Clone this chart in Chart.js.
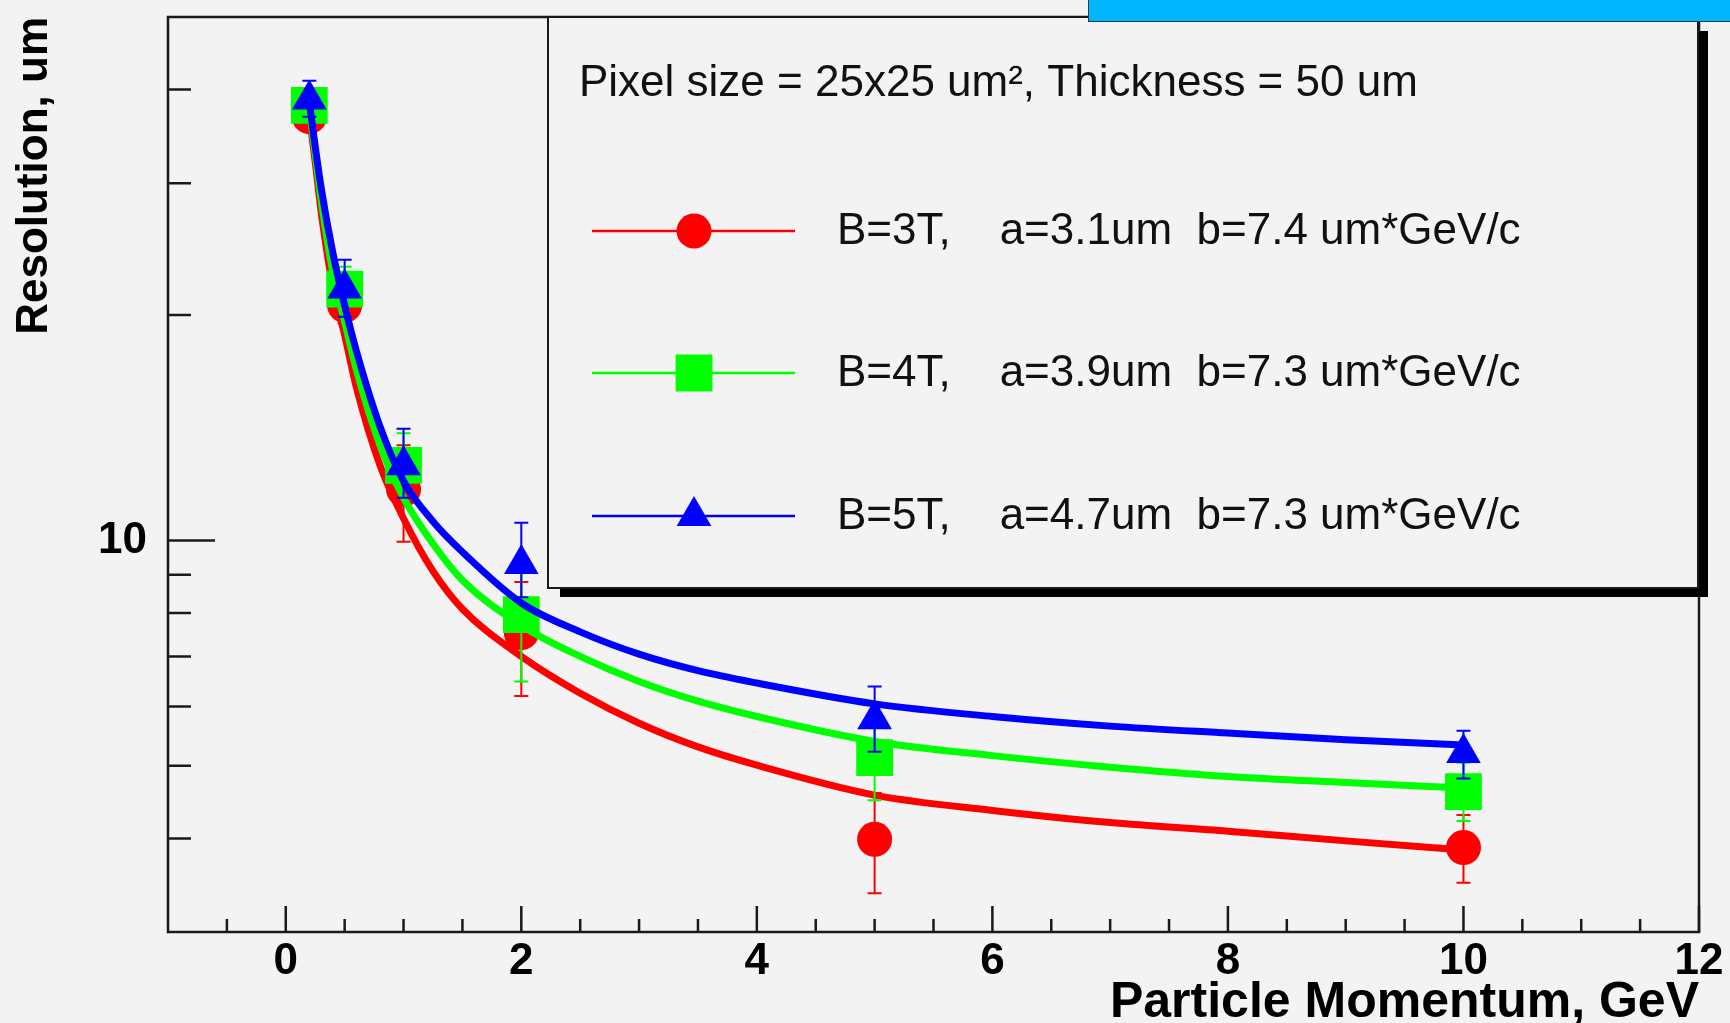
<!DOCTYPE html>
<html>
<head>
<meta charset="utf-8">
<script src="https://cdn.jsdelivr.net/npm/chart.js@4.4.1/dist/chart.umd.min.js"></script>
<style>
  html, body { margin: 0; padding: 0; background: #f3f3f3; }
  #wrap { position: relative; width: 1730px; height: 1023px; overflow: hidden; }
  #c { position: absolute; left: 0; top: 0; }
  #bar { position: absolute; left: 1088px; top: 0; width: 642px; height: 21px; background: #00b6ff;
         border-left: 1px solid #123c4f; border-bottom: 1px solid #123c4f; }
</style>
</head>
<body>
<div id="wrap">
  <canvas id="c" width="1730" height="1023"></canvas>
  <div id="bar"></div>
</div>
<script>
// ---------------- data ----------------
const momenta = [0.2, 0.5, 1, 2, 5, 10];

const res3T     = [36.8, 20.6, 11.7, 7.53, 3.99, 3.89];
const err3TLow  = [35.6, 19.5, 9.96, 6.2, 3.38, 3.49];
const err3THigh = [38.2, 21.8, 13.4, 8.8, 4.6, 4.30];

const res4T     = [38.1, 21.65, 12.6, 7.96, 5.13, 4.62];
const err4TLow  = [36.6, 20.6, 11.7, 6.48, 4.50, 4.22];
const err4THigh = [39.6, 23.2, 13.9, 9.3, 5.8, 5.05];

const res5T     = [38.8, 21.7, 12.6, 9.3, 5.77, 5.20];
const err5TLow  = [36.8, 19.9, 11.4, 8.4, 5.22, 4.81];
const err5THigh = [41.1, 23.7, 14.1, 10.56, 6.38, 5.57];

const fitMomenta = [0.2, 0.25, 0.3, 0.4, 0.5, 0.6, 0.8, 1, 1.25, 1.5, 2, 2.5, 3, 3.5, 4, 5, 6, 7, 8, 9, 10];
const fit3T = [37.0, 32.0, 27.5, 21.8, 18.8, 16.0, 12.6, 10.7, 9.1, 8.1, 7.0, 6.25, 5.7, 5.3, 5.01, 4.57, 4.36, 4.2, 4.09, 3.97, 3.86];
const fit4T = [37.8, 32.8, 28.5, 22.8, 19.6, 16.9, 13.4, 11.4, 9.9, 8.85, 7.7, 7.0, 6.48, 6.1, 5.82, 5.39, 5.16, 4.98, 4.84, 4.75, 4.67];
const fit5T = [38.5, 33.6, 29.6, 24.2, 20.6, 17.9, 14.2, 12.0, 10.6, 9.65, 8.25, 7.55, 7.05, 6.7, 6.45, 6.05, 5.82, 5.65, 5.53, 5.42, 5.33];

const xTickValues = [0, 2, 4, 6, 8, 10, 12];
const xMinorTicks = [-0.5, 0.5, 1, 1.5, 2.5, 3, 3.5, 4.5, 5, 5.5, 6.5, 7, 7.5, 8.5, 9, 9.5, 10.5, 11, 11.5];
const yTickValues = [4, 5, 6, 7, 8, 9, 10, 20, 30, 40];
const yLabelledTicks = [10];

const legendHeader = 'Pixel size = 25x25 um\u00B2, Thickness = 50 um';
const seriesLabels = [
  'B=3T,    a=3.1um  b=7.4 um*GeV/c',
  'B=4T,    a=3.9um  b=7.3 um*GeV/c',
  'B=5T,    a=4.7um  b=7.3 um*GeV/c'
];
const xTitle = 'Particle Momentum, GeV';
const yTitle = 'Resolution, um';

// ---------------- styling ----------------
const FONT = '"Liberation Sans", Arial, Helvetica, sans-serif';
const BG = '#f3f3f3';
const INK = '#1a1a1a';
const COLORS = ['#ff0000', '#00ff00', '#0000ff'];
const STYLES = ['circle', 'rect', 'triangle'];
const RADII = [17.5, 26, 20];

const pts = (xs, ys) => xs.map((x, i) => ({ x, y: ys[i] }));

function fitDataset(ys, idx, order) {
  return {
    type: 'line', data: pts(fitMomenta, ys), borderColor: COLORS[idx], borderWidth: 7,
    pointRadius: 0, fill: false, cubicInterpolationMode: 'monotone', order
  };
}
function pointDataset(ys, lo, hi, idx, order) {
  return {
    type: 'line', showLine: false, data: pts(momenta, ys),
    pointStyle: STYLES[idx], pointRadius: RADII[idx], pointBorderWidth: 0,
    pointBackgroundColor: COLORS[idx], pointBorderColor: COLORS[idx], borderColor: COLORS[idx],
    errLo: lo, errHi: hi, order
  };
}

// ---------------- plugins ----------------
const background = {
  id: 'background',
  beforeDraw(chart) {
    const c = chart.ctx;
    c.save(); c.fillStyle = BG; c.fillRect(0, 0, chart.width, chart.height); c.restore();
  }
};

const errorBars = {
  id: 'errorBars',
  beforeDatasetDraw(chart, args) {
    const ds = chart.data.datasets[args.index];
    if (!ds.errLo) return;
    const c = chart.ctx, xs = chart.scales.x, ys = chart.scales.y;
    c.save();
    c.strokeStyle = ds.borderColor; c.lineWidth = 2;
    ds.data.forEach((p, i) => {
      const px = xs.getPixelForValue(p.x);
      const yl = ys.getPixelForValue(ds.errLo[i]);
      const yh = ys.getPixelForValue(ds.errHi[i]);
      c.beginPath();
      c.moveTo(px, yl); c.lineTo(px, yh);
      c.moveTo(px - 7, yl); c.lineTo(px + 7, yl);
      c.moveTo(px - 7, yh); c.lineTo(px + 7, yh);
      c.stroke();
    });
    c.restore();
  }
};

const frameAndTicks = {
  id: 'frameAndTicks',
  afterDatasetsDraw(chart) {
    const c = chart.ctx, a = chart.chartArea, xs = chart.scales.x, ys = chart.scales.y;
    c.save();
    c.strokeStyle = INK; c.lineWidth = 2.5;
    c.strokeRect(a.left, a.top, a.right - a.left, a.bottom - a.top);
    c.beginPath();
    xTickValues.forEach(v => { const p = xs.getPixelForValue(v); c.moveTo(p, a.bottom); c.lineTo(p, a.bottom - 26); });
    xMinorTicks.forEach(v => { const p = xs.getPixelForValue(v); c.moveTo(p, a.bottom); c.lineTo(p, a.bottom - 13); });
    yTickValues.forEach(v => {
      const p = ys.getPixelForValue(v);
      const len = yLabelledTicks.includes(v) ? 47 : 23;
      c.moveTo(a.left, p); c.lineTo(a.left + len, p);
    });
    c.stroke();
    c.restore();
  }
};

const rootLegend = {
  id: 'rootLegend',
  afterDraw(chart) {
    const c = chart.ctx;
    const L = 548, T = 17, R = 1698, B = 588;
    c.save();
    // shadow
    c.fillStyle = '#000';
    c.fillRect(L + 12, T + 14, R - L - 2, B - T - 5);
    // box
    c.fillStyle = BG;
    c.fillRect(L, T, R - L, B - T);
    c.strokeStyle = INK; c.lineWidth = 2;
    c.strokeRect(L, T, R - L, B - T);
    // header
    c.fillStyle = '#111';
    c.font = '44px ' + FONT;
    c.textBaseline = 'middle'; c.textAlign = 'left';
    c.fillText(legendHeader, 579, 84);
    const rows = [231, 373, 516];
    seriesLabels.forEach((txt, i) => {
      const y = rows[i];
      c.strokeStyle = COLORS[i]; c.lineWidth = 2.5;
      c.beginPath(); c.moveTo(592, y); c.lineTo(795, y); c.stroke();
      c.fillStyle = COLORS[i];
      Chart.helpers.drawPoint(c, { pointStyle: STYLES[i], radius: RADII[i], rotation: 0, borderWidth: 0 }, 694, y);
      c.fillStyle = '#111';
      c.fillText(txt, 837, y + 1);
    });
    c.restore();
  }
};

// ---------------- chart ----------------
const chart = new Chart(document.getElementById('c'), {
  type: 'line',
  data: {
    datasets: [
      pointDataset(res5T, err5TLow, err5THigh, 2, 1),
      fitDataset(fit5T, 2, 2),
      pointDataset(res4T, err4TLow, err4THigh, 1, 3),
      fitDataset(fit4T, 1, 4),
      pointDataset(res3T, err3TLow, err3THigh, 0, 5),
      fitDataset(fit3T, 0, 6)
    ]
  },
  options: {
    responsive: false,
    animation: false,
    devicePixelRatio: 1,
    layout: { autoPadding: false, padding: { top: 17, right: 31, left: 0, bottom: 0 } },
    plugins: { legend: { display: false }, tooltip: { enabled: false } },
    scales: {
      x: {
        type: 'linear', min: -1, max: 12,
        afterBuildTicks: s => { s.ticks = xTickValues.map(v => ({ value: v })); },
        afterFit: s => { s.height = 91; s.paddingLeft = 0; s.paddingRight = 0; },
        grid: { display: false, drawTicks: false },
        border: { display: false },
        ticks: {
          autoSkip: false, maxRotation: 0, padding: 3, color: '#000',
          font: { family: FONT, size: 44, weight: 'bold' },
          callback: v => String(v)
        },
        title: {
          display: true, text: xTitle, align: 'end', color: '#000',
          font: { family: FONT, size: 50, weight: 'bold', lineHeight: 0.8 },
          padding: { top: 0, bottom: 0 }
        }
      },
      y: {
        type: 'logarithmic', min: 3, max: 50,
        afterBuildTicks: s => { s.ticks = yTickValues.map(v => ({ value: v })); },
        afterFit: s => { s.width = 168; s.paddingTop = 0; s.paddingBottom = 0; },
        grid: { display: false, drawTicks: false },
        border: { display: false },
        ticks: {
          autoSkip: false, padding: 21, color: '#000',
          font: { family: FONT, size: 44, weight: 'bold' },
          callback: v => yLabelledTicks.includes(v) ? String(v) : ''
        },
        title: {
          display: true, text: yTitle, align: 'end', color: '#000',
          font: { family: FONT, size: 44, weight: 'bold', lineHeight: 1 },
          padding: { top: 13, bottom: 0 }
        }
      }
    }
  },
  plugins: [background, errorBars, frameAndTicks, rootLegend]
});
</script>
</body>
</html>
